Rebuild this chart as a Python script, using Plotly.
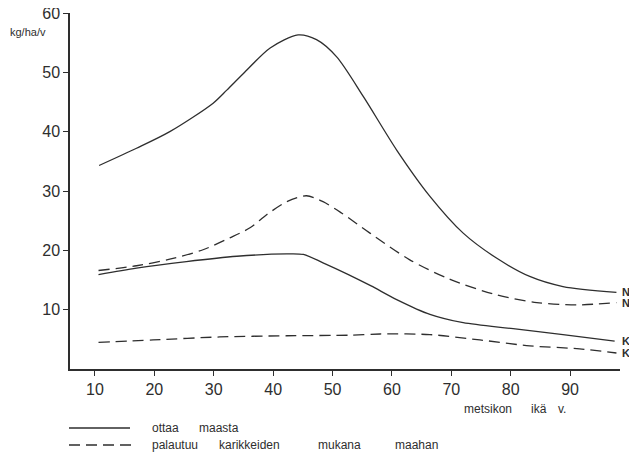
import plotly.graph_objects as go

# --- data ---
age_n_take = [10.7, 17.0, 22.6, 29.9, 32.2, 35.0, 39.5, 44.2, 47.3, 50.7, 55.2, 60.8, 66.4, 72.0, 77.6, 83.2, 88.8, 97.8]
n_take = [34.3, 37.2, 40.0, 44.8, 47.0, 49.8, 54.1, 56.3, 55.5, 52.6, 45.9, 36.9, 29.1, 22.9, 18.7, 15.6, 13.9, 12.9]

age_n_return = [10.6, 17.0, 22.6, 28.2, 32.7, 36.1, 38.9, 42.3, 45.6, 48.4, 51.5, 56.3, 63.0, 69.8, 77.6, 84.4, 91.1, 97.8]
n_return = [16.6, 17.4, 18.5, 20.1, 22.1, 23.8, 26.0, 28.2, 29.2, 28.2, 26.3, 22.9, 18.4, 15.1, 12.5, 11.2, 10.8, 11.2]

age_k_take = [10.6, 17.0, 25.4, 33.9, 42.3, 45.1, 48.4, 52.5, 56.5, 60.8, 66.4, 72.0, 80.4, 88.8, 97.5]
k_take = [15.9, 17.0, 18.1, 19.0, 19.4, 19.3, 17.9, 16.0, 14.0, 11.7, 9.2, 7.8, 6.8, 5.8, 4.7]

age_k_return = [10.6, 19.8, 31.0, 42.3, 52.9, 58.0, 66.4, 74.8, 83.2, 91.6, 97.8]
k_return = [4.5, 4.9, 5.4, 5.6, 5.7, 5.9, 5.8, 4.9, 3.9, 3.4, 2.7]

series_labels = ["N", "N", "K", "K"]
legend_words_take = ["ottaa", "maasta"]
legend_words_return = ["palautuu", "karikkeiden", "mukana", "maahan"]
xtitle_words = ["metsikon", "ikä", "v."]
unit_label = "kg/ha/v"

x_ticks = [10, 20, 30, 40, 50, 60, 70, 80, 90]
y_ticks = [10, 20, 30, 40, 50, 60]

INK = "#2e2e2e"
FONT = "Liberation Sans"
DASH = "11px,6px"
LW = 1.3

# page body has an 8px margin; plot area in page pixels is 70..620 x 13..369
OFF = 8
PL, PR, PT, PB = 70, 620, 13, 369
W, H = 637 - OFF, 452 - OFF


def px(xp):
    return (xp - PL) / (PR - PL)


def py(yp):
    return (PB - yp) / (PB - PT)


fig = go.Figure()
series = [
    (age_n_take, n_take, "solid"),
    (age_n_return, n_return, DASH),
    (age_k_take, k_take, "solid"),
    (age_k_return, k_return, DASH),
]
for (xs, ys, dash), lab in zip(series, series_labels):
    fig.add_trace(go.Scatter(
        x=xs, y=ys, mode="lines",
        line=dict(color=INK, width=LW, dash=dash, shape="spline", smoothing=0.8),
        showlegend=False, hoverinfo="skip", cliponaxis=False,
    ))
    fig.add_annotation(xref="paper", yref="y", x=px(620), y=ys[-1], text="<b>%s</b>" % lab,
                       showarrow=False, xanchor="left", yanchor="middle",
                       font=dict(family=FONT, size=11, color=INK))

fig.update_layout(
    template="none",
    width=W, height=H,
    margin=dict(l=PL - OFF, r=W - (PR - OFF), t=PT - OFF, b=H - (PB - OFF), pad=0),
    paper_bgcolor="white", plot_bgcolor="white",
    font=dict(family=FONT, color=INK),
    showlegend=False,
)
axis_common = dict(
    ticks="outside", ticklen=5, tickwidth=1.2, tickcolor=INK,
    showline=True, linecolor=INK, linewidth=1.5, showgrid=False,
    zeroline=False, automargin=False, ticklabeloverflow="allow",
    tickfont=dict(family=FONT, size=16, color=INK),
)
fig.update_xaxes(range=[5.8, 98.4], tickvals=x_ticks, **axis_common)
fig.update_yaxes(range=[0, 60], tickvals=y_ticks, **axis_common)

# unit label
fig.add_annotation(xref="paper", yref="paper", x=px(8), y=py(32), text=unit_label,
                   showarrow=False, xanchor="left", yanchor="middle",
                   font=dict(family=FONT, size=11, color=INK))

# x-axis title, word by word (wide word spacing in the original)
for word, xl in zip(xtitle_words, [462, 529, 556]):
    fig.add_annotation(xref="paper", yref="paper", x=px(xl), y=py(409), text=word,
                       showarrow=False, xanchor="left", yanchor="middle",
                       font=dict(family=FONT, size=12, color=INK))

# legend key
fig.add_shape(type="line", xref="paper", yref="paper", x0=px(69), x1=px(130),
              y0=py(428), y1=py(428), line=dict(color=INK, width=LW))
fig.add_shape(type="line", xref="paper", yref="paper", x0=px(69), x1=px(136),
              y0=py(445), y1=py(445), line=dict(color=INK, width=LW, dash=DASH))
for word, xl in zip(legend_words_take, [150, 197]):
    fig.add_annotation(xref="paper", yref="paper", x=px(xl), y=py(428), text=word,
                       showarrow=False, xanchor="left", yanchor="middle",
                       font=dict(family=FONT, size=12, color=INK))
for word, xl in zip(legend_words_return, [150, 217, 316, 393]):
    fig.add_annotation(xref="paper", yref="paper", x=px(xl), y=py(445), text=word,
                       showarrow=False, xanchor="left", yanchor="middle",
                       font=dict(family=FONT, size=12, color=INK))

fig.write_html("out.html")
